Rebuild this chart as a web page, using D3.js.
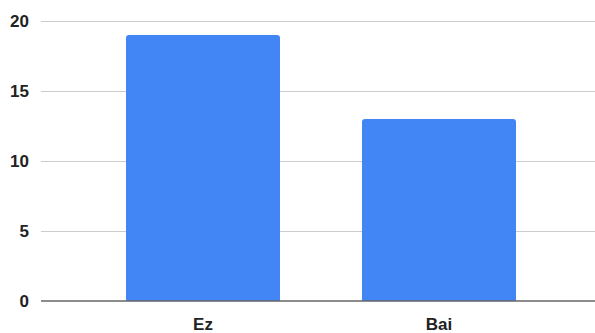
<!DOCTYPE html>
<html>
<head>
<meta charset="utf-8">
<script src="https://cdn.jsdelivr.net/npm/d3@7"></script>
<style>
  html, body { margin: 0; padding: 0; background: #fff; }
  svg { display: block; }
  text { font-family: "Liberation Sans", Arial, sans-serif; font-weight: bold; fill: #222; }
</style>
</head>
<body>
<svg id="chart" width="595" height="333"></svg>
<script>
const categories = ["Ez", "Bai"];
const values = [19, 13];
const yTicks = [0, 5, 10, 15, 20];

const W = 595, H = 333;
const svg = d3.select("#chart");

const y = d3.scaleLinear().domain([0, 20]).range([301, 21]);
const x = d3.scaleBand().domain(categories).range([85, 557]).paddingInner(0.3475).paddingOuter(0.17375);

// gridlines
svg.append("g").selectAll("line").data(yTicks.filter(d => d !== 0)).join("line")
  .attr("x1", 41).attr("x2", W)
  .attr("y1", d => Math.round(y(d)) + 0.5).attr("y2", d => Math.round(y(d)) + 0.5)
  .attr("stroke", "#cccccc").attr("stroke-width", 1);

// y labels
svg.append("g").selectAll("text").data(yTicks).join("text")
  .attr("x", 29).attr("y", d => y(d))
  .attr("dy", "0.35em")
  .attr("text-anchor", "end")
  .attr("font-size", 17)
  .text(d => d);

// bars with rounded top corners
const r = 3;
svg.append("g").selectAll("path").data(categories).join("path")
  .attr("fill", "#4285f4")
  .attr("d", (c, i) => {
    const x0 = x(c), x1 = x(c) + x.bandwidth();
    const y0 = y(values[i]), yb = y(0);
    return `M${x0},${yb} L${x0},${y0 + r} Q${x0},${y0} ${x0 + r},${y0} L${x1 - r},${y0} Q${x1},${y0} ${x1},${y0 + r} L${x1},${yb} Z`;
  });

// baseline
svg.append("line")
  .attr("x1", 41).attr("x2", W)
  .attr("y1", y(0)).attr("y2", y(0))
  .attr("stroke", "#666666").attr("stroke-width", 1.5);

// x labels
svg.append("g").selectAll("text").data(categories).join("text")
  .attr("x", c => x(c) + x.bandwidth() / 2)
  .attr("y", 330)
  .attr("text-anchor", "middle")
  .attr("font-size", 17)
  .text(c => c);
</script>
</body>
</html>
